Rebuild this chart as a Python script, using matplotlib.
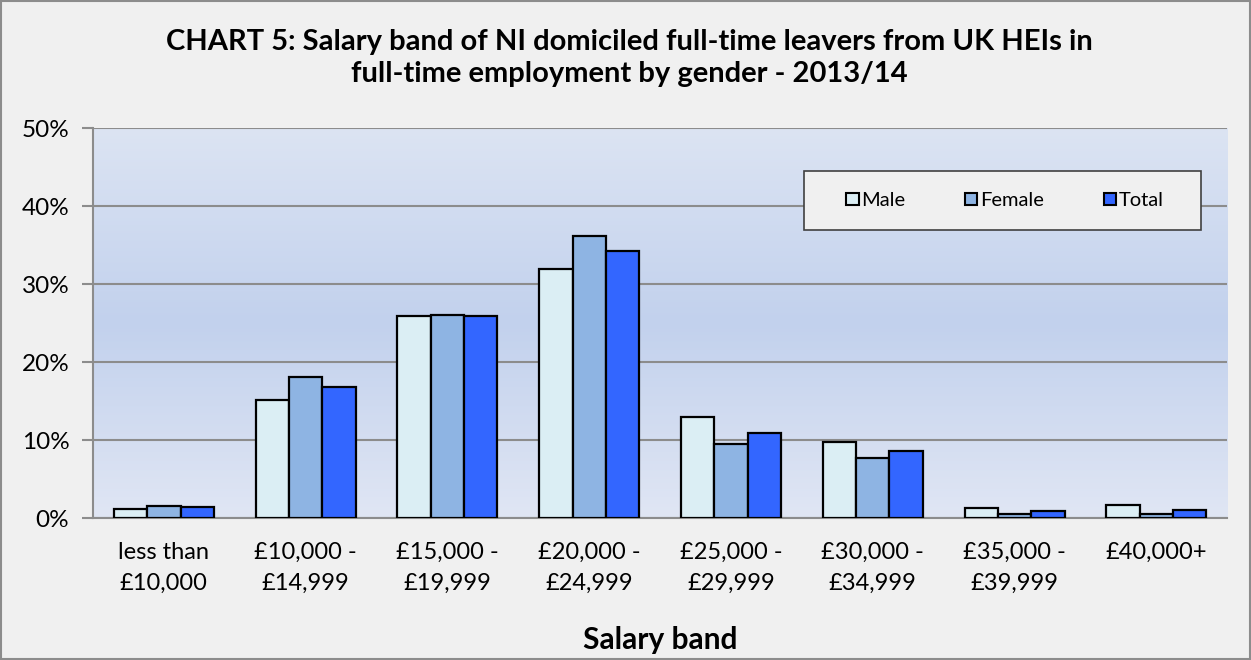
import matplotlib.pyplot as plt
import numpy as np
from matplotlib.patches import Rectangle
from matplotlib.colors import LinearSegmentedColormap

plt.rcParams['font.family'] = ['Lato', 'DejaVu Sans']

# data (percent of leavers)
bands = ['less than\n£10,000', '£10,000 -\n£14,999', '£15,000 -\n£19,999', '£20,000 -\n£24,999',
         '£25,000 -\n£29,999', '£30,000 -\n£34,999', '£35,000 -\n£39,999', '£40,000+']
male = [1.2, 15.2, 25.9, 31.9, 13.0, 9.7, 1.3, 1.7]
female = [1.5, 18.1, 26.0, 36.1, 9.5, 7.7, 0.5, 0.5]
total = [1.4, 16.8, 25.9, 34.2, 10.9, 8.6, 0.85, 1.0]

fig = plt.figure(figsize=(12.51, 6.60), dpi=100, facecolor='#f0f0f0')
ax = fig.add_axes([0.0743, 0.215, 0.9067, 0.591])

# gradient background of the plot area
cmap = LinearSegmentedColormap.from_list('bg', ['#e0e6f4', '#c2d1ed', '#dce4f3'])
ygrid = np.linspace(0, 1, 200).reshape(-1, 1)
ax.imshow(ygrid, aspect='auto', cmap=cmap, extent=[-0.5, len(bands) - 0.5, 0, 50],
          origin='lower', zorder=0)

x = np.arange(len(bands))
w = 0.235
kw = dict(edgecolor='black', linewidth=1.6, zorder=3)
ax.bar(x - w, male, w, color='#dbeef4', label='Male', **kw)
ax.bar(x, female, w, color='#8eb4e3', label='Female', **kw)
ax.bar(x + w, total, w, color='#3366ff', label='Total', **kw)

ax.set_xlim(-0.5, len(bands) - 0.5)
ax.set_ylim(0, 50)
ax.set_yticks(range(0, 51, 10))
ax.set_yticklabels([f'{v}%' for v in range(0, 51, 10)], fontsize=17.5)
ax.set_xticks(x)
ax.set_xticklabels(bands, fontsize=17, linespacing=1.6)
ax.tick_params(axis='x', length=0, pad=17)
ax.tick_params(axis='y', length=8, width=1.5, color='#8c8c8c', pad=9)
ax.yaxis.grid(True, color='#8c8c8c', linewidth=1.5, zorder=1)
ax.set_axisbelow(True)
for s in ['top', 'right']:
    ax.spines[s].set_visible(False)
for s in ['left', 'bottom']:
    ax.spines[s].set_color('#8c8c8c')
    ax.spines[s].set_linewidth(1.5)

ax.set_xlabel('Salary band', fontsize=21.5, fontweight='bold', labelpad=23)

fig.text(0.503, 0.912, 'CHART 5: Salary band of NI domiciled full-time leavers from UK HEIs in\nfull-time employment by gender - 2013/14',
         ha='center', va='center', fontsize=21, fontweight='bold', linespacing=1.3)

# legend box drawn separately, legend entries centred inside it
fig.patches.append(Rectangle((0.6427, 0.6515), 0.3174, 0.0894, transform=fig.transFigure,
                             facecolor='#f0f0f0', edgecolor='#404040', linewidth=1.2, zorder=5))
handles, labels = ax.get_legend_handles_labels()
leg = fig.legend(handles, labels, loc='center', bbox_to_anchor=(0.8014 + 0.002, 0.6962),
                 ncol=3, fontsize=14.5, frameon=False, handlelength=0.6, handleheight=0.6,
                 handletextpad=0.15, columnspacing=2.95, borderaxespad=0)
leg.set_zorder(6)
for h in leg.legend_handles:
    h.set_linewidth(1.5)

fig.patches.append(Rectangle((0.001, 0.001), 0.998, 0.998, transform=fig.transFigure,
                             fill=False, edgecolor='#8c8c8c', linewidth=1.5))

fig.savefig('out.png', dpi=100, facecolor=fig.get_facecolor())
